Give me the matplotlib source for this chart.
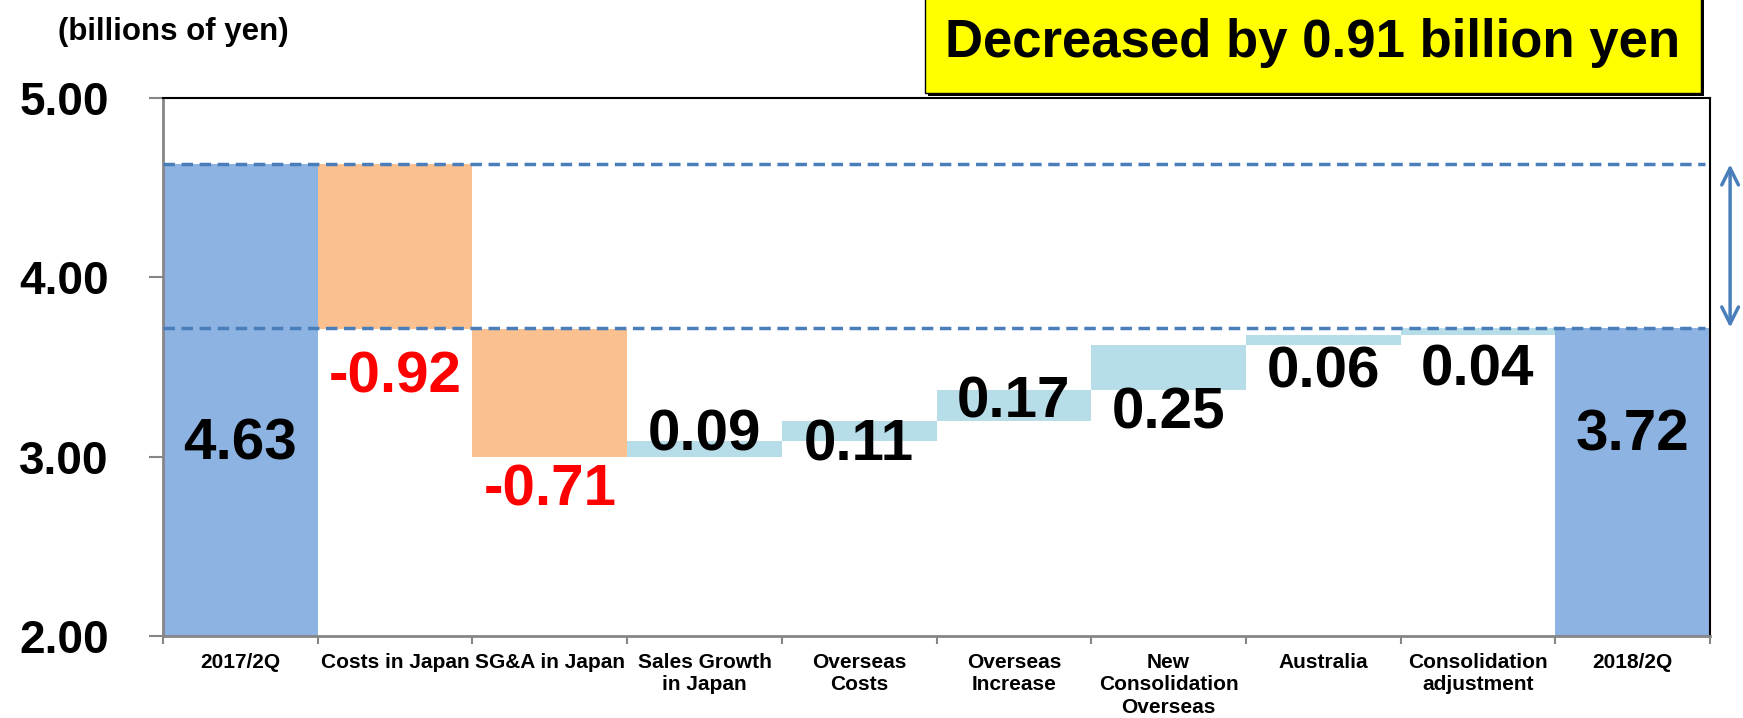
import numpy as np
import matplotlib
matplotlib.use("Agg")
import matplotlib.pyplot as plt
from matplotlib.patches import Rectangle

plt.rcParams["font.family"] = ["Liberation Sans", "DejaVu Sans"]
plt.rcParams["font.weight"] = "bold"

categories = ["2017/2Q", "Costs in Japan", "SG&A in Japan", "Sales Growth\nin Japan",
              "Overseas\nCosts", "Overseas\nIncrease", "New\nConsolidation\nOverseas",
              "Australia", "Consolidation\nadjustment", "2018/2Q"]
start_value = 4.63
changes = [-0.92, -0.71, 0.09, 0.11, 0.17, 0.25, 0.06, 0.04]
end_value = 3.72
# where the value labels sit
label_y = [3.07, 3.44, 2.81, 3.12, 3.06, 3.30, 3.24, 3.47, 3.48, 3.12]
y_ticks = [2.0, 3.0, 4.0, 5.0]

C_TOTAL = "#8DB3E2"
C_NEG = "#FAC090"
C_POS = "#B7DEE8"
C_LINE = "#4A7EBB"
C_AXIS = "#868686"

fig = plt.figure(figsize=(17.43, 7.18), dpi=100)
ax = fig.add_axes([163 / 1743, 1 - 636 / 718, (1710 - 163) / 1743, (636 - 98) / 718])

x = np.arange(len(categories))
levels = start_value + np.cumsum([0] + changes)

ax.bar(x[0], start_value, width=1.0, color=C_TOTAL, zorder=2)
ax.bar(x[-1], end_value, width=1.0, color=C_TOTAL, zorder=2)
for i, d in enumerate(changes):
    lo = min(levels[i], levels[i + 1])
    ax.bar(x[i + 1], abs(d), bottom=lo, width=1.0,
           color=C_NEG if d < 0 else C_POS, zorder=2)

# value labels
texts = [f"{start_value:.2f}"] + [f"{d:.2f}" for d in changes] + [f"{end_value:.2f}"]
for i, t in enumerate(texts):
    neg = t.startswith("-")
    ax.text(x[i], label_y[i], t, ha="center", va="center", fontsize=42,
            fontweight="bold", color="#FF0000" if neg else "black", zorder=4)

# reference lines at start and end totals
for v in (start_value, end_value):
    ax.axhline(v, xmin=0, xmax=0.997, color=C_LINE, lw=2.5, ls=(0, (3.3, 1.9)), zorder=3)

ax.annotate("", xy=(1.013, start_value), xytext=(1.013, end_value),
            xycoords=("axes fraction", "data"),
            arrowprops=dict(arrowstyle="<->", color=C_LINE, lw=2.5,
                            mutation_scale=30, shrinkA=0, shrinkB=0),
            annotation_clip=False)

ax.set_xlim(-0.5, len(categories) - 0.5)
ax.set_ylim(2.0, 5.0)
ax.set_yticks(y_ticks)
ax.set_yticklabels([f"{v:.2f}" for v in y_ticks], fontsize=33, fontweight="bold")
ax.tick_params(axis="y", length=10, width=1.5, color=C_AXIS, pad=29)

ax.set_xticks(x)
ax.set_xticklabels(categories, fontsize=15, fontweight="bold", linespacing=1.25, va="top")
ax.tick_params(axis="x", which="major", length=0, pad=12)
ax.set_xticks(np.arange(len(categories) + 1) - 0.5, minor=True)
ax.tick_params(axis="x", which="minor", length=6, width=1.5, color=C_AXIS)

for s in ("left", "bottom"):
    ax.spines[s].set_color(C_AXIS)
    ax.spines[s].set_linewidth(2)
for s in ("top", "right"):
    ax.spines[s].set_color("black")
    ax.spines[s].set_linewidth(1.5)

fig.text(58 / 1743, 1 - 32 / 718, "(billions of yen)", fontsize=22.5, fontweight="bold",
         ha="left", va="center")

# yellow headline box with drop shadow
bx0, bx1, by0, by1 = 925 / 1743, 1701 / 1743, 1 - 93 / 718, 1.01
fig.patches.append(Rectangle((bx0 + 3 / 1743, by0 - 3 / 718), bx1 - bx0, by1 - by0,
                             transform=fig.transFigure, facecolor="black",
                             edgecolor="none", zorder=5))
fig.patches.append(Rectangle((bx0, by0), bx1 - bx0, by1 - by0, transform=fig.transFigure,
                             facecolor="#FFFF00", edgecolor="black", lw=1, zorder=6))
fig.text((bx0 + bx1) / 2, 1 - 43 / 718, "Decreased by 0.91 billion yen", fontsize=38,
         fontweight="bold", ha="center", va="center", zorder=7)

fig.savefig("out.png", dpi=100)
